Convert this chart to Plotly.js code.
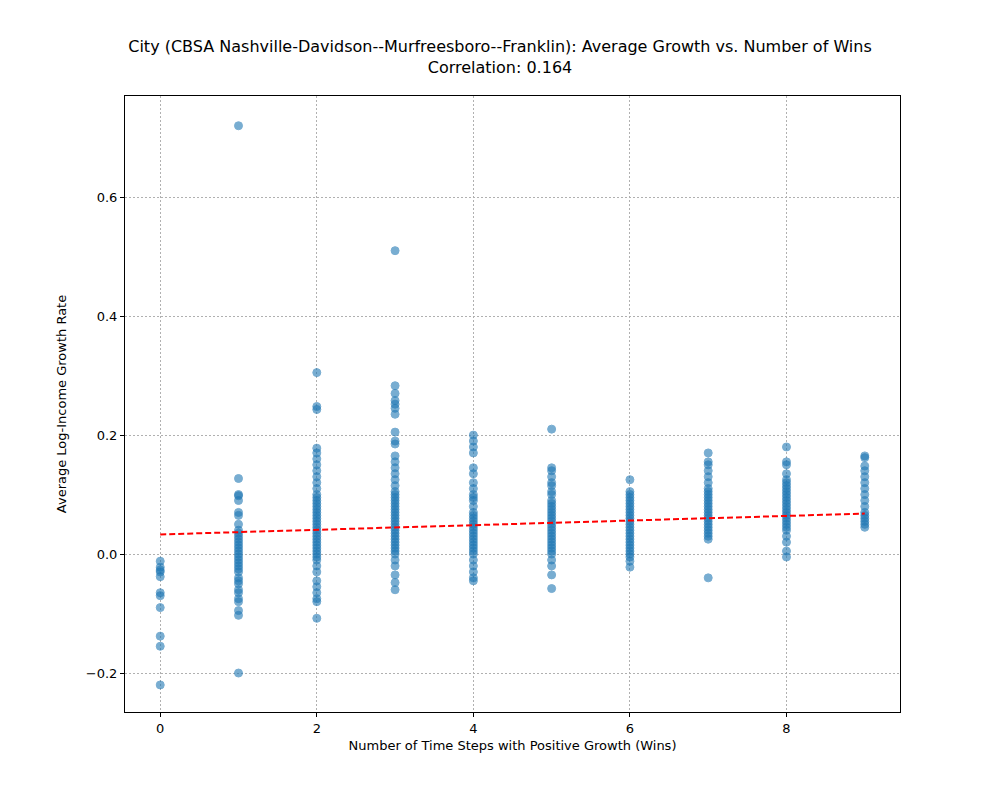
<!DOCTYPE html>
<html><head><script src="https://cdn.plot.ly/plotly-3.0.1.min.js"></script></head>
<body style="margin:0"><div id="c" style="width:1000px;height:800px"></div>
<script>
const wins0=[-0.012,-0.022,-0.027,-0.03,-0.038,-0.065,-0.07,-0.09,-0.138,-0.155,-0.22];
const wins1=[0.72,0.127,0.1,0.098,0.09,0.07,0.065,0.05,0.04,0.035,0.03,0.025,0.02,0.015,0.01,0.005,0,-0.005,-0.01,-0.015,-0.02,-0.025,-0.03,-0.04,-0.045,-0.05,-0.06,-0.065,-0.075,-0.08,-0.095,-0.103,-0.2];
const wins2=[0.305,0.248,0.243,0.178,0.17,0.16,0.15,0.14,0.13,0.12,0.11,0.1,0.095,0.09,0.085,0.08,0.075,0.07,0.065,0.06,0.055,0.05,0.045,0.04,0.035,0.03,0.025,0.02,0.015,0.01,0.005,0,-0.005,-0.01,-0.02,-0.03,-0.045,-0.055,-0.065,-0.075,-0.08,-0.108];
const wins3=[0.51,0.283,0.27,0.258,0.252,0.245,0.235,0.205,0.19,0.185,0.165,0.155,0.145,0.135,0.125,0.115,0.105,0.1,0.095,0.09,0.085,0.08,0.075,0.07,0.065,0.06,0.055,0.05,0.045,0.04,0.035,0.03,0.025,0.02,0.015,0.01,0.005,0,-0.01,-0.02,-0.035,-0.048,-0.06];
const wins4=[0.2,0.19,0.18,0.17,0.145,0.135,0.12,0.11,0.1,0.095,0.09,0.08,0.07,0.065,0.06,0.055,0.05,0.045,0.04,0.035,0.03,0.025,0.02,0.015,0.01,0.005,0,-0.01,-0.02,-0.03,-0.04,-0.045];
const wins5=[0.21,0.145,0.14,0.13,0.12,0.115,0.105,0.1,0.09,0.085,0.08,0.075,0.07,0.065,0.06,0.055,0.05,0.045,0.04,0.035,0.03,0.025,0.02,0.015,0.01,0.005,0,-0.01,-0.02,-0.035,-0.058];
const wins6=[0.125,0.105,0.1,0.095,0.09,0.085,0.08,0.075,0.07,0.065,0.06,0.055,0.05,0.045,0.04,0.035,0.03,0.025,0.02,0.015,0.01,0.005,0,-0.005,-0.012,-0.022];
const wins7=[0.17,0.155,0.15,0.14,0.13,0.12,0.11,0.105,0.1,0.095,0.09,0.085,0.08,0.075,0.07,0.065,0.06,0.055,0.05,0.045,0.04,0.035,0.03,0.025,-0.04];
const wins8=[0.18,0.155,0.15,0.135,0.125,0.12,0.115,0.11,0.105,0.1,0.095,0.09,0.085,0.08,0.075,0.07,0.065,0.06,0.055,0.05,0.045,0.04,0.03,0.02,0.005,-0.005];
const wins9=[0.165,0.162,0.148,0.14,0.13,0.12,0.11,0.1,0.09,0.08,0.07,0.065,0.06,0.055,0.05,0.045];
const groups=[wins0,wins1,wins2,wins3,wins4,wins5,wins6,wins7,wins8,wins9];
const trendX=[0,9], trendY=[0.033,0.068];
const xs=[],ys=[];
groups.forEach((g,i)=>g.forEach(v=>{xs.push(i);ys.push(v);}));
const ax={showline:true,mirror:true,linecolor:'#000',linewidth:1,ticks:'outside',ticklen:4,tickcolor:'#000',
 gridcolor:'#b0b0b0',griddash:'2px,2px',gridwidth:0.5,zeroline:false,tickfont:{size:13,color:'#000'}};
Plotly.newPlot('c',[
 {x:xs,y:ys,type:'scatter',mode:'markers',marker:{color:'#1f77b4',opacity:0.6,size:8,line:{color:'#1f77b4',width:1}},showlegend:false},
 {x:trendX,y:trendY,type:'scatter',mode:'lines',line:{color:'red',dash:'6px,3px',width:2},showlegend:false}
],{
 width:1000,height:800,paper_bgcolor:'#fff',plot_bgcolor:'#fff',
 font:{family:'DejaVu Sans',color:'#000'},
 margin:{l:125,r:100,t:96,b:88},
 title:{text:'City (CBSA Nashville-Davidson--Murfreesboro--Franklin): Average Growth vs. Number of Wins<br>Correlation: 0.164',font:{size:16},x:0.5,xanchor:'center',y:0.935,yanchor:'top'},
 xaxis:Object.assign({},ax,{range:[-0.45,9.45],tickvals:[0,2,4,6,8],title:{text:'Number of Time Steps with Positive Growth (Wins)',font:{size:13},standoff:6}}),
 yaxis:Object.assign({},ax,{range:[-0.2655,0.77],tickvals:[-0.2,0,0.2,0.4,0.6],ticktext:['−0.2','0.0','0.2','0.4','0.6'],title:{text:'Average Log-Income Growth Rate',font:{size:13},standoff:16}})
},{displayModeBar:false});
</script></body></html>
